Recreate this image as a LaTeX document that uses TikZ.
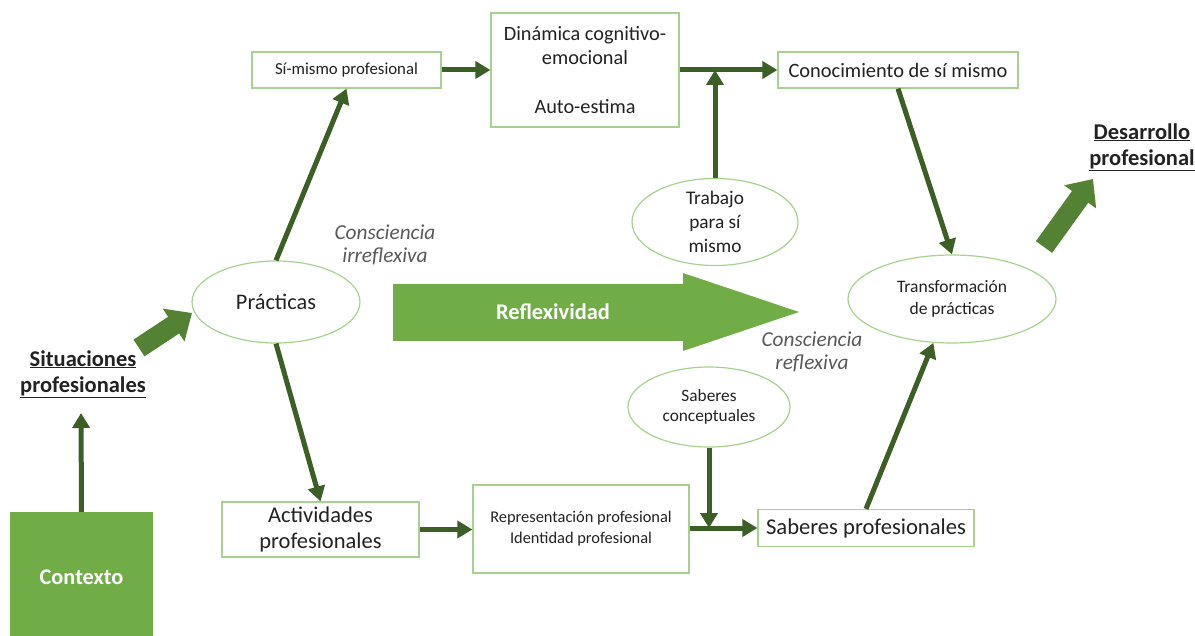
\documentclass[tikz,border=0pt]{standalone}
\usepackage{fontspec}
\setmainfont{Carlito}
\usetikzlibrary{arrows.meta,shapes.geometric}
\definecolor{boxgreen}{HTML}{A9D18E}
\definecolor{darkgreen}{HTML}{3B5F24}
\definecolor{midgreen}{HTML}{548235}
\definecolor{fillgreen}{HTML}{70AD47}
\definecolor{txt}{HTML}{222222}
\definecolor{softtxt}{HTML}{595959}
\newcommand\fsz[2]{\fontsize{#1}{#2}\selectfont}
\tikzset{
  box/.style={draw=boxgreen, line width=1.2pt, fill=white, inner sep=0pt,
    align=center, text=txt},
  oval/.style={ellipse, draw=boxgreen, line width=1.2pt, fill=white,
    inner sep=0pt, align=center, text=txt},
  note/.style={align=center, text=softtxt, font={\itshape\fsz{21.3}{23}}},
  title/.style={align=center, text=txt, font={\bfseries\fsz{22.5}{26}}},
  link/.style={draw=darkgreen, line width=5pt,
    -{Triangle[length=15pt,width=17pt]}},
  bigarrow/.style={draw=midgreen, line width=20pt,
    -{Triangle[length=22pt,width=38pt]}},
}
\begin{document}
\begin{tikzpicture}[x=1pt,y=-1pt]
\useasboundingbox (0,0) rectangle (1195,636);

% upper row
\node[box, minimum width=189, minimum height=36, font={\fsz{16.8}{20}}]
  (simismo) at (346.5,70) {Sí-mismo profesional};
\node[box, minimum width=188, minimum height=114, font={\fsz{20.3}{24}}]
  (dina) at (585,70) {Dinámica cognitivo-\\emocional\\[25pt]Auto-estima};
\node[box, minimum width=240, minimum height=36, font={\fsz{20.4}{24}}]
  (cono) at (898,70) {Conocimiento de sí mismo};
\node[oval, minimum width=166, minimum height=82, font={\fsz{19.3}{24}}]
  (trab) at (715,222) {Trabajo\\para sí\\mismo};

% middle row
\node[oval, minimum width=168, minimum height=82, font={\fsz{22.3}{26}}]
  (prac) at (276,302) {Prácticas};
\node[oval, minimum width=208, minimum height=88, font={\fsz{17.5}{22}}]
  (trans) at (952,299) {Transformación\\de prácticas};
\node[note] (irre) at (385,245) {Consciencia\\irreflexiva};
\node[note] (refx) at (812,352) {Consciencia\\reflexiva};
\node[title] (desa) at (1142,147) {\underline{Desarrollo}\\\underline{profesional}};
\node[title] (situ) at (83,374) {\underline{Situaciones}\\\underline{profesionales}};

% reflexivity arrow
\fill[fillgreen] (393,284) -- (683,284) -- (683,273) -- (799,312)
  -- (683,351) -- (683,341) -- (393,341) -- cycle;
\node[text=white, font={\bfseries\fsz{22.4}{26}}] (refl) at (553,312) {Reflexividad};

% lower row
\node[oval, minimum width=162, minimum height=80, font={\fsz{17.3}{20}}]
  (saco) at (709,407) {Saberes\\conceptuales};
\node[box, minimum width=197, minimum height=55, font={\fsz{22.5}{26}}]
  (acti) at (320.5,529.5) {Actividades\\profesionales};
\node[box, minimum width=216, minimum height=88, font={\fsz{16.4}{21}}]
  (repr) at (581,529) {Representación profesional\\Identidad profesional};
\node[box, minimum width=216, minimum height=37, font={\fsz{22.6}{26}}]
  (sapr) at (866,528) {Saberes profesionales};
\node[fill=fillgreen, minimum width=143, minimum height=130, inner sep=0pt,
  text=white, font={\bfseries\fsz{22.3}{26}}] (cont) at (81.5,577) {Contexto};

% connectors
\coordinate (situtip) at (81,413);
\draw[link] (cont.north) -- (situtip);
\draw[link] (prac.north) -- (simismo.south);
\draw[link] (prac.south) -- (acti.north);
\draw[link] (simismo.east) -- (dina.west);
\draw[link] (dina.east) -- (cono.west);
\draw[link] (trab.north) -- (trab.north |- dina.east);
\draw[link] (cono.south) -- (trans.north);
\draw[link] (acti.east) -- (repr.west |- acti.east);
\draw[link] (repr.east |- sapr.west) -- (sapr.west);
\draw[link] (saco.south) -- (saco.south |- sapr.west);
\draw[link] (sapr.north) -- (trans.-113);

% broad arrows
\coordinate (situtail) at (139,348);
\coordinate (practip) at (192,313);
\coordinate (desatail) at (1044,247);
\coordinate (desatip) at (1093,179);
\draw[bigarrow] (situtail) -- (practip);
\draw[bigarrow] (desatail) -- (desatip);
\end{tikzpicture}
\end{document}
